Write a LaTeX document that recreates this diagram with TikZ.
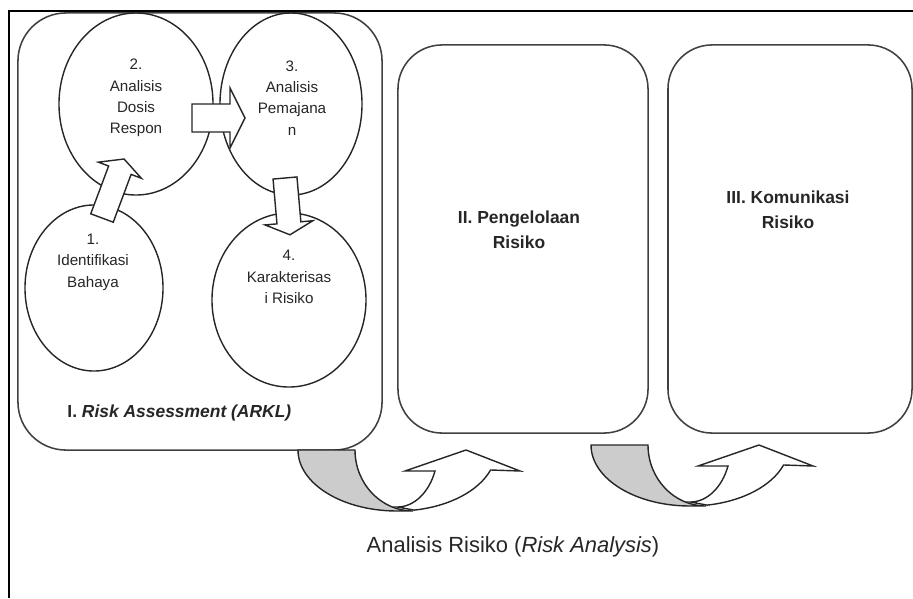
\documentclass[tikz,border=0pt]{standalone}
\usepackage{fontspec}
\setmainfont{Liberation Sans}
\usetikzlibrary{shapes.geometric}

\begin{document}
\begin{tikzpicture}[x=0.025cm, y=-0.025cm, semithick,
    box/.style={draw=black!75, line width=1.1pt, rounded corners=1.2cm, inner sep=0},
    circ/.style={ellipse, draw=black!85, line width=1pt, inner sep=0},
    lbl/.style={align=center, inner sep=0, text=black!85, font=\fontsize{10.8}{15.2}\selectfont},
    head/.style={align=center, inner sep=0, text=black!85, font=\bfseries\fontsize{12.4}{17.7}\selectfont},
    blk/.style={draw=black!85, fill=white, line width=1pt},
    back/.style={draw=black!85, fill=black!20, line width=1pt},
    front/.style={draw=black!85, fill=white, line width=1pt}]
	\useasboundingbox (0,0) rectangle (913,598);
	\draw[line width=1.4pt] (9,598) -- (9,11) -- (913,11);

	% the three stages
	\node[box, minimum width=9.1cm, minimum height=10.925cm] (assess) at (200,231.5) {};
	\node[box, rounded corners=1.1cm, minimum width=6.25cm, minimum height=9.7cm] (manage) at (523,239) {};
	\node[box, rounded corners=1.1cm, minimum width=6.1cm, minimum height=9.7cm] (comm) at (790,239) {};

	% steps of the assessment
	\node[circ, minimum width=3.45cm, minimum height=4.15cm] (hazard) at (94,288) {};
	\node[circ, minimum width=3.85cm, minimum height=4.55cm] (dose) at (136,104) {};
	\node[circ, minimum width=3.55cm, minimum height=4.55cm] (expo) at (291,104) {};
	\node[circ, minimum width=3.85cm, minimum height=4.35cm] (charac) at (289,300) {};

	\node[lbl] (tdose) at (136,98) {2.\\Analisis\\Dosis\\Respon};
	\node[lbl] (texpo) at (292,98) {3.\\Analisis\\Pemajana\\n};
	\node[lbl] (thazard) at (93,262) {1.\\Identifikasi\\Bahaya};
	\node[lbl] (tcharac) at (289,277) {4.\\Karakterisas\\i Risiko};

	\node[head] (tmanage) at (519,230) {II. Pengelolaan\\Risiko};
	\node[head] (tcomm) at (788,210) {III. Komunikasi\\Risiko};
	\node[head, anchor=west] (tassess) at (67,413) {I. \textit{Risk Assessment (ARKL)}};
	\node[inner sep=0, text=black!85, font=\fontsize{15.6}{18}\selectfont] (tanalysis) at (513,547) {Analisis Risiko (\textit{Risk Analysis})};

	% block arrows between the steps
	\foreach \x/\y/\a/\l/\s/\h/\k in {102/218/69.5/63/24/46/12, 192/118/0/53/28/60/15, 285/178/-85/57/24/48/12}
		\draw[blk, shift={(\x,\y)}, rotate=\a] (0,{-\s/2}) -- ({\l-\k},{-\s/2}) -- ({\l-\k},{-\h/2}) -- (\l,0)
			-- ({\l-\k},{\h/2}) -- ({\l-\k},{\s/2}) -- (0,{\s/2}) -- cycle;

	% curved arrows below the stages
	\foreach \ox/\oy in {298/450, 591/445} {
		\draw[back, shift={(\ox,\oy)}] (0,0) -- (57,0) arc[start angle=180, end angle=90, x radius=58, y radius=61]
			-- (99,61) arc[start angle=90, end angle=180, x radius=99, y radius=61] -- cycle;
		\draw[front, shift={(\ox,\oy)}] (116.2,60.1) arc[start angle=80, end angle=19.1, x radius=99, y radius=61]
			-- (222,21) -- (168,0) -- (107,21) -- (137,21)
			arc[start angle=21.6, end angle=90, x radius=40.6, y radius=57] -- cycle;
	}
\end{tikzpicture}
\end{document}
